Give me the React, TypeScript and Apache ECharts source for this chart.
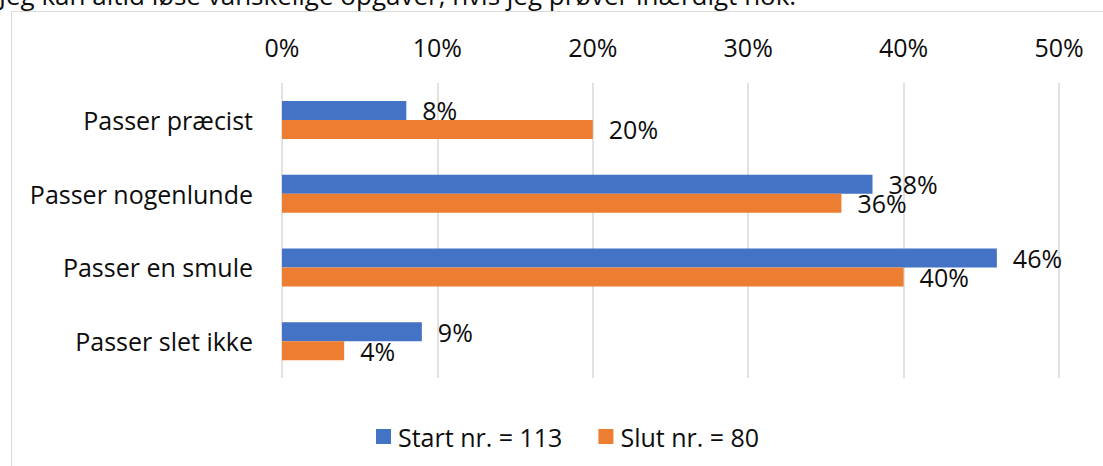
import React, { useEffect, useRef } from "react";
import * as echarts from "echarts";

const categories = ["Passer præcist", "Passer nogenlunde", "Passer en smule", "Passer slet ikke"];
const startValues = [8, 38, 46, 9];
const slutValues = [20, 36, 40, 4];
const seriesNames = ["Start nr. = 113", "Slut nr. = 80"];
const titleText = "Jeg kan altid løse vanskelige opgaver, hvis jeg prøver ihærdigt nok.";

const FONT = "Open Sans";
const FS = 25;
const TEXT = "#0d0d0d";

export default function App() {
  const ref = useRef<HTMLDivElement>(null);
  useEffect(() => {
    const chart = echarts.init(ref.current!, null, { renderer: "svg" });
    const labelCfg = {
      show: true,
      position: "right",
      distance: 16,
      formatter: (p: any) => p.value + "%",
      color: TEXT,
      fontFamily: FONT,
      fontSize: FS,
    };
    chart.setOption({
      animation: false,
      backgroundColor: "#ffffff",
      textStyle: { fontFamily: FONT },
      graphic: [
        {
          type: "rect",
          shape: { x: 11.5, y: 11.5, width: 1200, height: 600 },
          style: { fill: "none", stroke: "#d9d9d9", lineWidth: 1 },
          silent: true,
          z: -10,
        },
        {
          type: "text",
          x: -1,
          y: -5,
          style: {
            text: titleText,
            fontFamily: FONT,
            fontSize: 26,
            fill: TEXT,
            verticalAlign: "middle",
          },
        },
      ],
      grid: { left: 282, right: 44, top: 83, bottom: 88, containLabel: false },
      legend: {
        left: 371,
        top: 419,
        itemWidth: 15,
        itemHeight: 15,
        itemGap: 36,
        icon: "rect",
        data: seriesNames,
        textStyle: { color: TEXT, fontFamily: FONT, fontSize: FS, padding: [0, 0, 0, 2] },
      },
      xAxis: {
        type: "value",
        position: "top",
        min: 0,
        max: 50,
        interval: 10,
        axisLabel: { formatter: "{value}%", color: TEXT, fontFamily: FONT, fontSize: FS, margin: 24 },
        axisLine: { show: false },
        axisTick: { show: false },
        splitLine: { lineStyle: { color: "#d9d9d9", width: 1.5 } },
      },
      yAxis: {
        type: "category",
        inverse: true,
        data: categories,
        axisLabel: { color: TEXT, fontFamily: FONT, fontSize: FS, margin: 29 },
        axisLine: { show: false },
        axisTick: { show: false },
      },
      series: [
        {
          name: seriesNames[0],
          type: "bar",
          data: startValues,
          barWidth: 19,
          barGap: "0%",
          itemStyle: { color: "#4472C4" },
          label: labelCfg,
        },
        {
          name: seriesNames[1],
          type: "bar",
          data: slutValues,
          barWidth: 19,
          barGap: "0%",
          itemStyle: { color: "#ED7D31" },
          label: labelCfg,
        },
      ],
    });
    return () => chart.dispose();
  }, []);
  return <div ref={ref} style={{ width: 1103, height: 466, position: "absolute", left: 0, top: 0 }} />;
}
